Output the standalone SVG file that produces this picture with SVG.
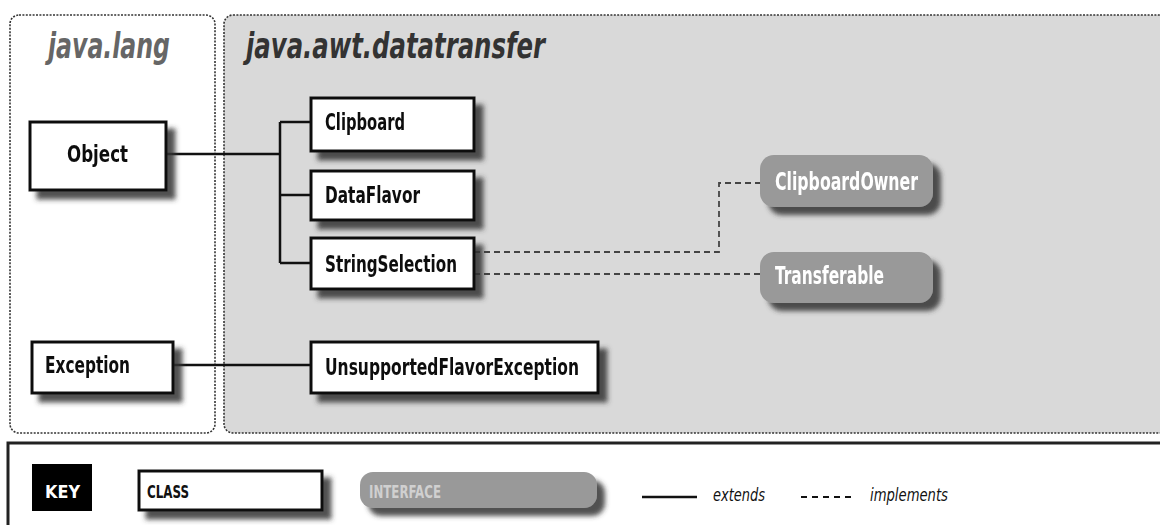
<svg xmlns="http://www.w3.org/2000/svg" width="1160" height="525" viewBox="0 0 1160 525">
<defs>
<filter id="sh" x="-20%" y="-20%" width="140%" height="160%">
<feGaussianBlur in="SourceAlpha" stdDeviation="2.5" result="b"/>
<feOffset in="b" dx="8" dy="8" result="o"/>
<feFlood flood-color="#333" flood-opacity="0.85"/>
<feComposite in2="o" operator="in" result="s"/>
<feMerge><feMergeNode in="s"/><feMergeNode in="SourceGraphic"/></feMerge>
</filter>
</defs>
<style>
.pkg{stroke:#333;stroke-width:1.6;stroke-dasharray:2 1.4}
.cls{fill:#fff;stroke:#111;stroke-width:3}
.ifc{fill:#999}
.t{font-family:"Liberation Sans Narrow","DejaVu Sans Condensed","Liberation Sans",sans-serif;font-weight:bold;font-size:23px;fill:#111}
.ti{font-family:"Liberation Sans Narrow","DejaVu Sans Condensed","Liberation Sans",sans-serif;font-weight:bold;font-size:24px;fill:#fff}
.pk{font-family:"Liberation Sans Narrow","DejaVu Sans Condensed","Liberation Sans",sans-serif;font-weight:bold;font-style:italic;font-size:36px}
.ext{fill:none;stroke:#111;stroke-width:2.5}
.imp{fill:none;stroke:#444;stroke-width:1.8;stroke-dasharray:6 4}
.k{font-family:"Liberation Sans Narrow","DejaVu Sans Condensed","Liberation Sans",sans-serif;font-size:18px}
</style>
<rect width="1160" height="525" fill="#fff"/>
<g id="pkg-lang">
<rect class="pkg" x="10" y="15" width="205" height="418" rx="9" fill="#fff"/>
<text class="pk" x="48" y="58" fill="#666" textLength="122" lengthAdjust="spacingAndGlyphs">java.lang</text>
</g>
<g id="pkg-datatransfer">
<rect class="pkg" x="224" y="15" width="950" height="418" rx="9" fill="#d9d9d9"/>
<text class="pk" x="246" y="58" fill="#333" textLength="299" lengthAdjust="spacingAndGlyphs">java.awt.datatransfer</text>
</g>
<g id="connectors">
<path class="ext" d="M166 154 H280 M280 122 V263 M280 122 H311 M280 195 H311 M280 263 H311"/>
<path class="ext" d="M173 365 H311"/>
<path class="imp" d="M474 252 H719 V183 H760"/>
<path class="imp" d="M474 274 H760"/>
</g>
<g id="Object" filter="url(#sh)">
<rect class="cls" x="30" y="122" width="136" height="68"/>
<text class="t" x="67" y="162" font-size="25" textLength="61" lengthAdjust="spacingAndGlyphs">Object</text>
</g>
<g id="Clipboard" filter="url(#sh)">
<rect class="cls" x="311" y="98" width="163" height="53"/>
<text class="t" x="325" y="130" textLength="80" lengthAdjust="spacingAndGlyphs">Clipboard</text>
</g>
<g id="DataFlavor" filter="url(#sh)">
<rect class="cls" x="311" y="171" width="163" height="49"/>
<text class="t" x="325" y="203" textLength="95" lengthAdjust="spacingAndGlyphs">DataFlavor</text>
</g>
<g id="StringSelection" filter="url(#sh)">
<rect class="cls" x="311" y="238" width="163" height="51"/>
<text class="t" x="325" y="272" textLength="132" lengthAdjust="spacingAndGlyphs">StringSelection</text>
</g>
<g id="Exception" filter="url(#sh)">
<rect class="cls" x="32" y="342" width="141" height="51"/>
<text class="t" x="45" y="373" textLength="85" lengthAdjust="spacingAndGlyphs">Exception</text>
</g>
<g id="UnsupportedFlavorException" filter="url(#sh)">
<rect class="cls" x="311" y="342" width="287" height="51"/>
<text class="t" x="325" y="375" textLength="254" lengthAdjust="spacingAndGlyphs">UnsupportedFlavorException</text>
</g>
<g id="ClipboardOwner" filter="url(#sh)">
<rect class="ifc" x="760" y="155" width="173" height="52" rx="14"/>
<text class="ti" x="775" y="190" textLength="143" lengthAdjust="spacingAndGlyphs">ClipboardOwner</text>
</g>
<g id="Transferable" filter="url(#sh)">
<rect class="ifc" x="760" y="252" width="173" height="51" rx="14"/>
<text class="ti" x="775" y="284" textLength="109" lengthAdjust="spacingAndGlyphs">Transferable</text>
</g>
<g id="key">
<rect x="8" y="443" width="1170" height="100" fill="#fff" stroke="#222" stroke-width="3"/>
<rect x="32" y="464" width="60" height="47" fill="#000"/>
<text class="k" x="45" y="498" fill="#fff" font-weight="bold" font-size="22" textLength="35" lengthAdjust="spacingAndGlyphs">KEY</text>
<g filter="url(#sh)">
<rect class="cls" x="139" y="471" width="183" height="39"/>
</g>
<text class="k" x="147" y="498" fill="#111" font-weight="bold" textLength="42" lengthAdjust="spacingAndGlyphs">CLASS</text>
<g filter="url(#sh)">
<rect class="ifc" x="360" y="472" width="237" height="36" rx="13"/>
</g>
<text class="k" x="369" y="498" fill="#d0d0d0" font-weight="bold" textLength="72" lengthAdjust="spacingAndGlyphs">INTERFACE</text>
<line x1="642" y1="497" x2="697" y2="497" stroke="#111" stroke-width="2.5"/>
<text class="k" x="713" y="501" fill="#111" font-style="italic" font-size="20" textLength="52" lengthAdjust="spacingAndGlyphs">extends</text>
<line x1="801" y1="497" x2="853" y2="497" stroke="#111" stroke-width="1.8" stroke-dasharray="6 5"/>
<text class="k" x="870" y="501" fill="#111" font-style="italic" font-size="20" textLength="78" lengthAdjust="spacingAndGlyphs">implements</text>
</g>
</svg>
